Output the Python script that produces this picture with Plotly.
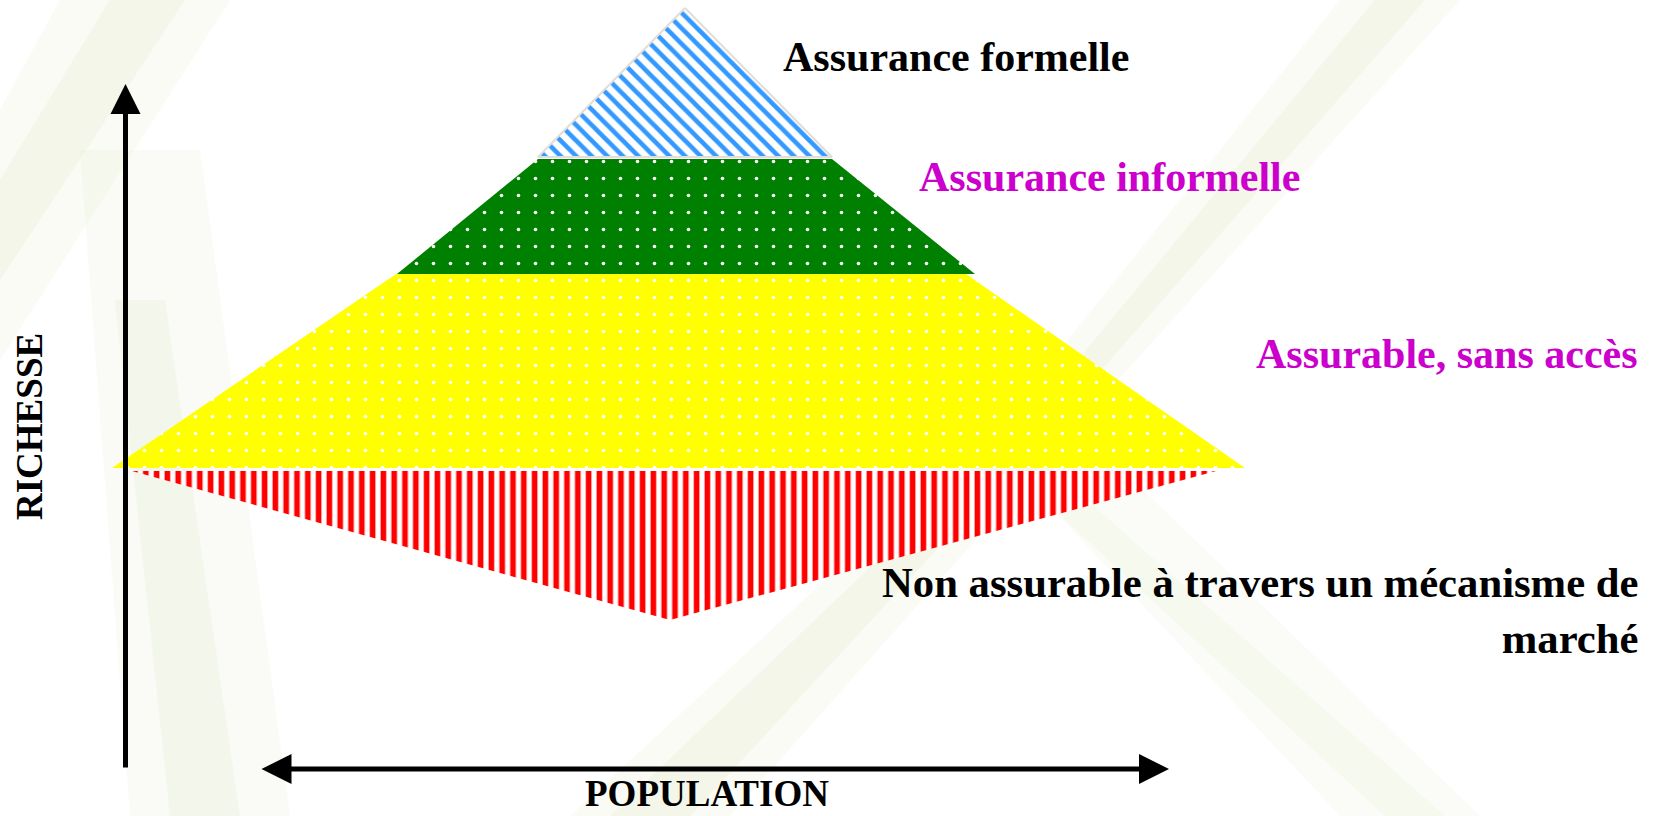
import plotly.graph_objects as go

# ---------------- data (chart units: population on x, richesse on y) ----------------
layer_names = [
    "Assurance formelle",
    "Assurance informelle",
    "Assurable, sans accès",
    "Non assurable à travers un mécanisme de marché",
]
level_top = [80.8, 65.7, 54.2, 34.5]       # richesse at the top of each layer
level_bottom = [65.9, 54.2, 34.8, 19.6]    # richesse at the bottom of each layer
top_left = [68.5, 53.8, 39.6, 13.2]
top_right = [68.5, 83.2, 96.6, 121.6]
bottom_left = [53.8, 39.7, 11.2, 67.0]
bottom_right = [83.2, 97.5, 124.5, 67.0]

label_colors = ["#000000", "#CC00CC", "#CC00CC", "#000000"]

X_RANGE = [0, 165.6]
Y_RANGE = [0, 81.6]

fig = go.Figure()

fills = [
    dict(fillcolor="white", fillpattern=dict(shape="\\", fgcolor="#3399FF", bgcolor="white",
                                              fgopacity=1, size=11, solidity=0.42),
         line=dict(color="#E2DDD8", width=2)),
    dict(fillcolor="#008000", fillpattern=dict(shape=".", fgcolor="#FFFFFF", bgcolor="#008000",
                                                fgopacity=1, size=17, solidity=0.035),
         line=dict(color="#008000", width=0)),
    dict(fillcolor="#FFFF00", fillpattern=dict(shape=".", fgcolor="#FFFFFF", bgcolor="#FFFF00",
                                                fgopacity=1, size=17, solidity=0.035),
         line=dict(color="#FFFF00", width=0)),
    dict(fillcolor="white", fillpattern=dict(shape="|", fgcolor="#FF0000", bgcolor="white",
                                              fgopacity=1, size=10.8, solidity=0.52),
         line=dict(color="#FF0000", width=0)),
]

for i, name in enumerate(layer_names):
    xs = [top_left[i], top_right[i], bottom_right[i], bottom_left[i], top_left[i]]
    ys = [level_top[i], level_top[i], level_bottom[i], level_bottom[i], level_top[i]]
    fig.add_trace(go.Scatter(x=xs, y=ys, mode="lines", fill="toself", name=name,
                             hoverinfo="skip", showlegend=False, **fills[i]))

# ---------------- background streaks (decoration) ----------------
W, H = 1656, 816


def ppath(pts):
    s = ""
    for k, (px, py) in enumerate(pts):
        s += ("M " if k == 0 else " L ") + f"{px / W:.4f} {1 - py / H:.4f}"
    return s + " Z"


bands = [
    ([(60, 0), (230, 0), (0, 360), (0, 110)], "rgba(228,236,205,0.22)"),
    ([(110, 0), (185, 0), (0, 280), (0, 180)], "rgba(228,236,205,0.3)"),
    ([(80, 150), (200, 150), (290, 816), (130, 816)], "rgba(232,239,212,0.22)"),
    ([(115, 300), (165, 300), (240, 816), (170, 816)], "rgba(228,236,205,0.3)"),
    ([(570, 816), (730, 816), (1100, 400), (1460, 0), (1340, 0), (1020, 400)], "rgba(232,239,212,0.25)"),
    ([(610, 816), (690, 816), (1075, 400), (1425, 0), (1375, 0), (1045, 400)], "rgba(228,236,205,0.3)"),
    ([(950, 400), (1050, 400), (1480, 816), (1340, 816)], "rgba(234,240,216,0.2)"),
    ([(990, 450), (1030, 450), (1445, 816), (1385, 816)], "rgba(230,238,208,0.25)"),
]
shapes = []
for pts, col in bands:
    shapes.append(dict(type="path", xref="paper", yref="paper", path=ppath(pts),
                       fillcolor=col, line=dict(width=0), layer="below"))

# ---------------- axes arrows & labels ----------------
FONT = "Liberation Serif, Times New Roman, serif"
annotations = [
    # RICHESSE arrow (up)
    dict(x=12.55, y=73.2, ax=12.55, ay=4.7, xref="x", yref="y", axref="x", ayref="y",
         text="", showarrow=True, arrowhead=2, arrowsize=1.2, arrowwidth=5, arrowcolor="black"),
    # POPULATION double arrow
    dict(x=116.9, y=4.7, ax=26.0, ay=4.7, xref="x", yref="y", axref="x", ayref="y",
         text="", showarrow=True, arrowhead=2, arrowsize=1.2, arrowwidth=5, arrowcolor="black",
         arrowside="end+start", startarrowhead=2, startarrowsize=1.2),
    dict(x=70.7, y=2.25, xref="x", yref="y", text="POPULATION", showarrow=False,
         xanchor="center", yanchor="middle",
         font=dict(family=FONT, size=37, color="black", weight="bold")),
    dict(x=2.9, y=38.9, xref="x", yref="y", text="RICHESSE", showarrow=False, textangle=-90,
         xanchor="center", yanchor="middle",
         font=dict(family=FONT, size=37, color="black", weight="bold")),
    # layer labels
    dict(x=78.1, y=81.6 - 5.7, xref="x", yref="y", text=layer_names[0], showarrow=False,
         xanchor="left", yanchor="middle",
         font=dict(family=FONT, size=42, color=label_colors[0], weight="bold")),
    dict(x=91.7, y=81.6 - 17.7, xref="x", yref="y", text=layer_names[1], showarrow=False,
         xanchor="left", yanchor="middle",
         font=dict(family=FONT, size=42, color=label_colors[1], weight="bold")),
    dict(x=164.0, y=81.6 - 35.4, xref="x", yref="y", text=layer_names[2], showarrow=False,
         xanchor="right", yanchor="middle",
         font=dict(family=FONT, size=42, color=label_colors[2], weight="bold")),
    dict(x=164.0, y=81.6 - 61.0, xref="x", yref="y",
         text="Non assurable à travers un mécanisme de<br>marché", showarrow=False,
         xanchor="right", yanchor="middle", align="right",
         font=dict(family=FONT, size=42.7, color=label_colors[3], weight="bold")),
]

fig.update_layout(
    width=W, height=H,
    margin=dict(l=0, r=0, t=0, b=0),
    paper_bgcolor="white", plot_bgcolor="rgba(0,0,0,0)",
    xaxis=dict(range=X_RANGE, visible=False, fixedrange=True),
    yaxis=dict(range=Y_RANGE, visible=False, fixedrange=True),
    shapes=shapes,
    annotations=annotations,
    showlegend=False,
)

fig.write_html("out.html", config={"displayModeBar": False})
